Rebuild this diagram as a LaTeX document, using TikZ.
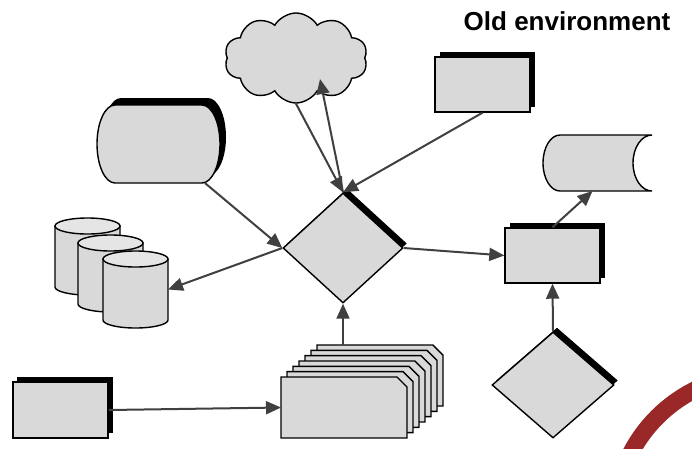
\documentclass[tikz,border=0pt]{standalone}
\usepackage{fontspec}
\setmainfont{Liberation Sans}
\usetikzlibrary{arrows.meta,shapes.geometric,shapes.symbols,shadows}
\definecolor{shapegray}{gray}{0.85}
\definecolor{topgray}{gray}{0.9}
\definecolor{arrowgray}{RGB}{64,64,64}
\definecolor{darkred}{RGB}{154,40,40}
\tikzset{
  shapeline/.style={draw=black, line width=1.4pt, fill=shapegray},
  boxnode/.style={shapeline, rectangle, minimum width=95pt, minimum height=55pt, inner sep=0pt,
    general shadow={shadow xshift=5pt, shadow yshift=5pt, fill=black}},
  decnode/.style={shapeline, diamond, inner sep=0pt,
    general shadow={shadow xshift=4pt, shadow yshift=4.5pt, fill=black}},
  anchorbox/.style={rectangle, inner sep=0pt, outer sep=0pt},
  arr/.style={draw=arrowgray, line width=2pt, -{Triangle[length=15pt,width=13pt]}},
  cylpic/.pic={
    \path[shapeline] (-32.5,0) -- (-32.5,61) .. controls (-32.5,65.4) and (-17.95,69) .. (0,69)
      .. controls (17.95,69) and (32.5,65.4) .. (32.5,61) -- (32.5,0) -- cycle;
    \path[shapeline, fill=topgray] (0,0) ellipse [x radius=32.5, y radius=8];
  }
}
\begin{document}
\begin{tikzpicture}[x=1pt, y=-1pt]
\useasboundingbox (0,0) rectangle (692,448);
\fill[white] (0,0) rectangle (692,448);

% red arc
\begin{scope}
  \clip (0,0) rectangle (692,448);
  \draw[darkred, line width=17pt] (760,520) circle [radius=145.5];
\end{scope}

% title
\node[anchor=base east, font=\bfseries\fontsize{26}{30}\selectfont, inner sep=0pt] (title) at (670.5,30) {Old environment};

% cloud
\node[shapeline, cloud, cloud puffs=10, cloud puff arc=120, minimum width=143pt, minimum height=90pt, inner sep=0pt] (cl) at (296,58) {};
\coordinate (cltip) at (320,79);

% terminal shape
\begin{scope}[shift={(6,-7)}]
  \fill[black] (115,105) -- (202,105) .. controls (211.9,105) and (220,122.5) .. (220,144)
    .. controls (220,165.5) and (211.9,183) .. (202,183) -- (115,183)
    .. controls (105.1,183) and (97,165.5) .. (97,144)
    .. controls (97,122.5) and (105.1,105) .. (115,105) -- cycle;
\end{scope}
\path[shapeline] (115,105) -- (202,105) .. controls (211.9,105) and (220,122.5) .. (220,144)
    .. controls (220,165.5) and (211.9,183) .. (202,183) -- (115,183)
    .. controls (105.1,183) and (97,165.5) .. (97,144)
    .. controls (97,122.5) and (105.1,105) .. (115,105) -- cycle;
\node[anchorbox, minimum width=123pt, minimum height=78pt] (t) at (158.5,144) {};

% cylinders
\pic at (87.5,226) {cylpic};
\pic at (110.5,243) {cylpic};
\pic at (135.5,259) {cylpic};
\node[anchorbox, minimum width=65pt, minimum height=77pt] (c3) at (135.5,289.5) {};

% stored data
\path[shapeline] (560,135) -- (652,135) .. controls (641.5,135) and (633,147.5) .. (633,163)
  .. controls (633,178.5) and (641.5,191) .. (652,191) -- (560,191)
  .. controls (550.6,191) and (543,178.5) .. (543,163)
  .. controls (543,147.5) and (550.6,135) .. (560,135) -- cycle;
\node[anchorbox, minimum width=109pt, minimum height=56pt] (sd) at (597.5,163) {};

% boxes
\node[boxnode] (r1) at (482.5,84.5) {};
\node[boxnode] (r2) at (552.5,255.5) {};
\node[boxnode, minimum height=56pt, general shadow={shadow xshift=4pt, shadow yshift=5pt, fill=black}] (r3) at (60.5,410) {};

% decisions
\node[decnode, minimum width=120pt, minimum height=110pt] (d1) at (343,248) {};
\node[decnode, minimum width=122pt, minimum height=106pt] (d2) at (553,385) {};

% stack of documents
\foreach \i in {6,5,...,0} {
  \path[shapeline] ({281+6*\i},{377-5.33*\i}) -- ++(116,0) -- ++(10,10) -- ++(0,51) -- ++(-126,0) -- cycle;
}
\node[anchorbox, minimum width=126pt, minimum height=61pt] (s1) at (344,407.5) {};
\node[anchorbox, minimum width=126pt, minimum height=61pt] (s7) at (380,375.5) {};

% connectors
\draw[arr] (t) -- (d1.west);
\draw[arr] (d1.west) -- (c3.east);
\draw[arr] (cl.south) -- (d1.north);
\draw[arr] (d1.north) -- (cltip);
\draw[arr] (r1.south) -- (d1.north);
\draw[arr] (d1.east) -- (r2.west);
\draw[arr] (r2.north) -- ([xshift=-5pt]sd.south);
\draw[arr] (d2.north) -- (r2.south);
\draw[arr] (s7.north -| d1.south) -- (d1.south);
\draw[arr] (r3.east) -- (s1.west);
\end{tikzpicture}
\end{document}
